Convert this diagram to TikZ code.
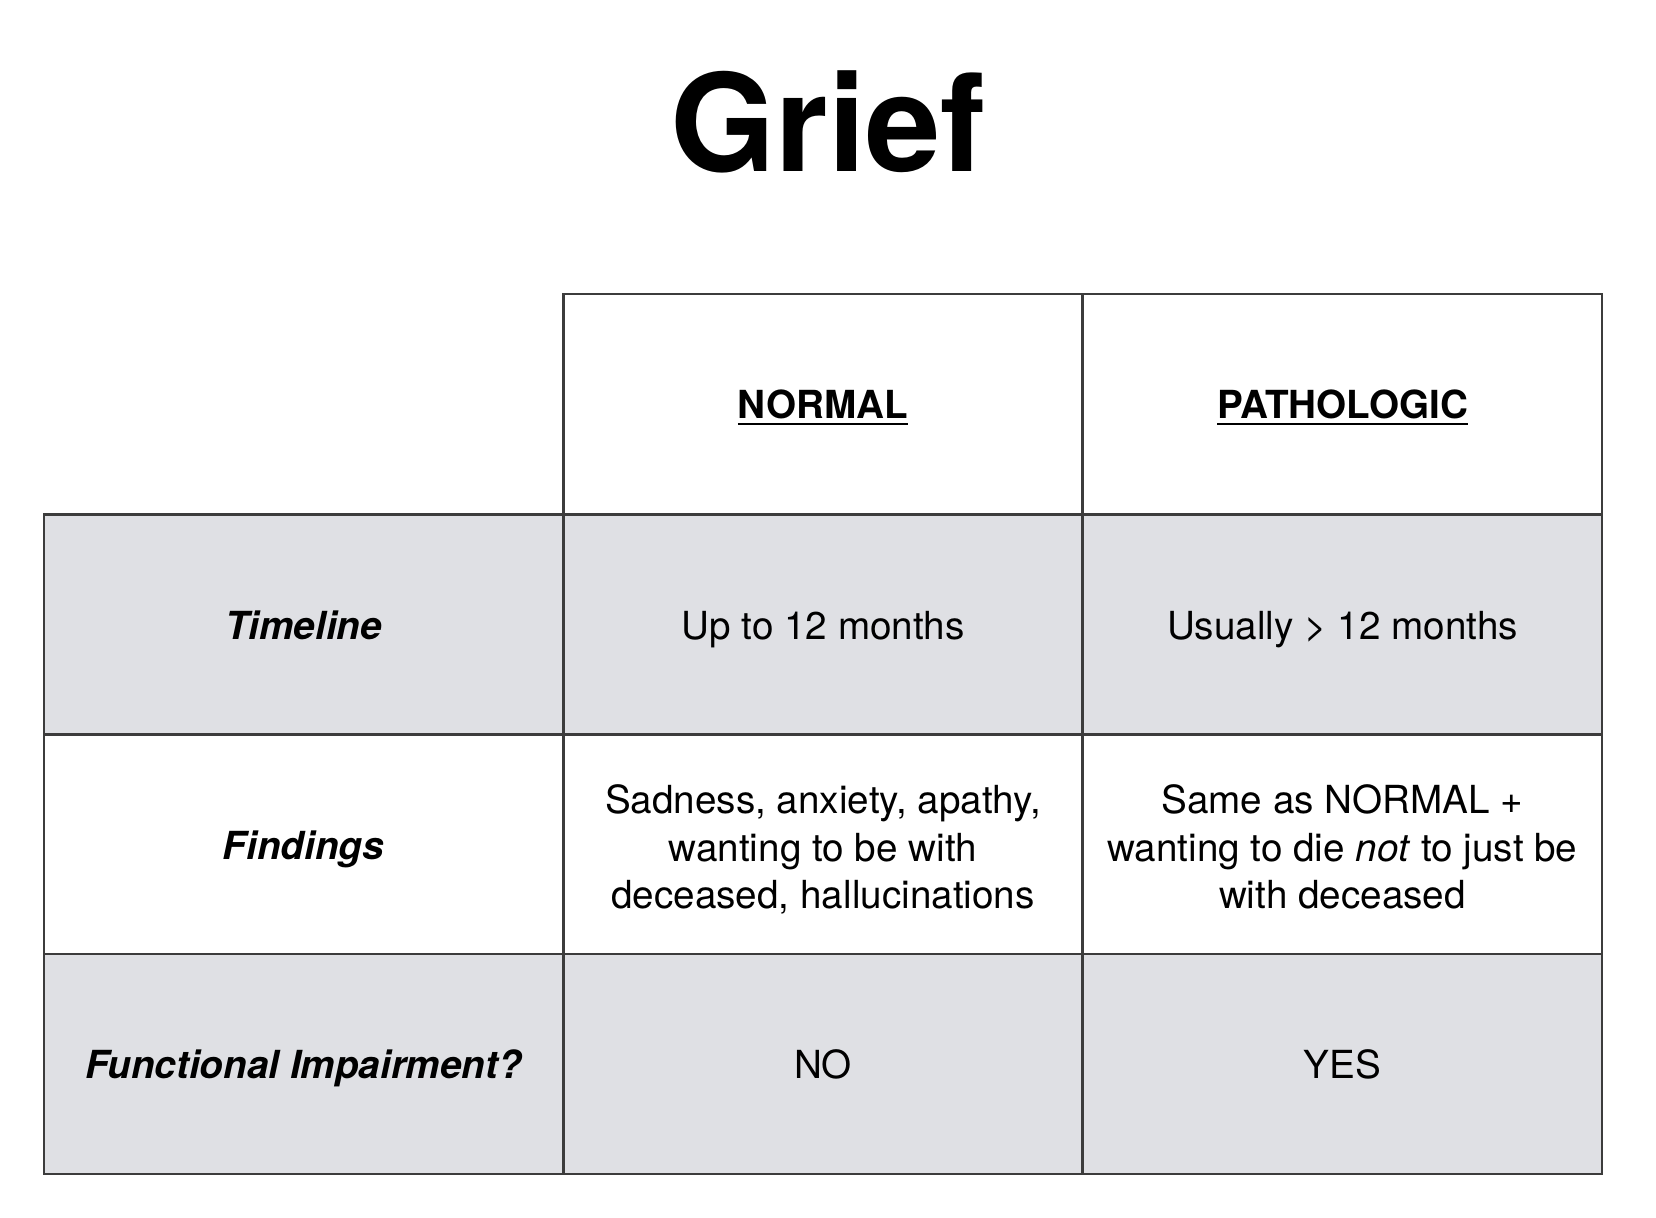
\documentclass[tikz,border=0pt]{standalone}
\usepackage{fontspec}
\setmainfont{TeX Gyre Heros}
\definecolor{rowgray}{RGB}{223,224,228}
\definecolor{gridline}{RGB}{60,60,60}
\tikzset{
	cell/.style={draw=gridline, line width=0.6pt, outer sep=0pt, inner sep=0pt, minimum width=5.19cm, minimum height=2.2cm, align=center, text height=10.6pt, text depth=2.3pt, font=\fontsize{11}{13.6}\selectfont},
	graycell/.style={cell, fill=rowgray},
	threelines/.style={text height=38.9pt, text depth=2.3pt},
	rowhead/.style={font=\fontsize{11}{13.6}\selectfont\bfseries\itshape},
}
\begin{document}
\begin{tikzpicture}
			\useasboundingbox (0,0) rectangle (16.56,12.17);
			\node[font=\fontsize{38.5}{46}\selectfont\bfseries, anchor=base] (title) at (8.28,10.45) {Grief};
			% header row
			\node[cell] (hnormal) at (8.23,8.13) {\textbf{\underline{NORMAL}}};
			\node[cell] (hpath) at (13.425,8.13) {\textbf{\underline{PATHOLOGIC}}};
			% timeline
			\node[graycell, rowhead] (timeline) at (3.035,5.925) {Timeline};
			\node[graycell] (tnormal) at (8.23,5.925) {Up to 12 months};
			\node[graycell] (tpath) at (13.425,5.925) {Usually > 12 months};
			% findings
			\node[cell, rowhead] (findings) at (3.035,3.725) {Findings};
			\node[cell, threelines] (fnormal) at (8.23,3.725) {Sadness, anxiety, apathy,\\wanting to be with\\deceased, hallucinations};
			\node[cell, threelines] (fpath) at (13.425,3.725) {Same as NORMAL +\\wanting to die \textit{not} to just be\\with deceased};
			% impairment
			\node[graycell, rowhead] (impair) at (3.035,1.53) {Functional Impairment?};
			\node[graycell] (inormal) at (8.23,1.53) {NO};
			\node[graycell] (ipath) at (13.425,1.53) {YES};
		\end{tikzpicture}
\end{document}
